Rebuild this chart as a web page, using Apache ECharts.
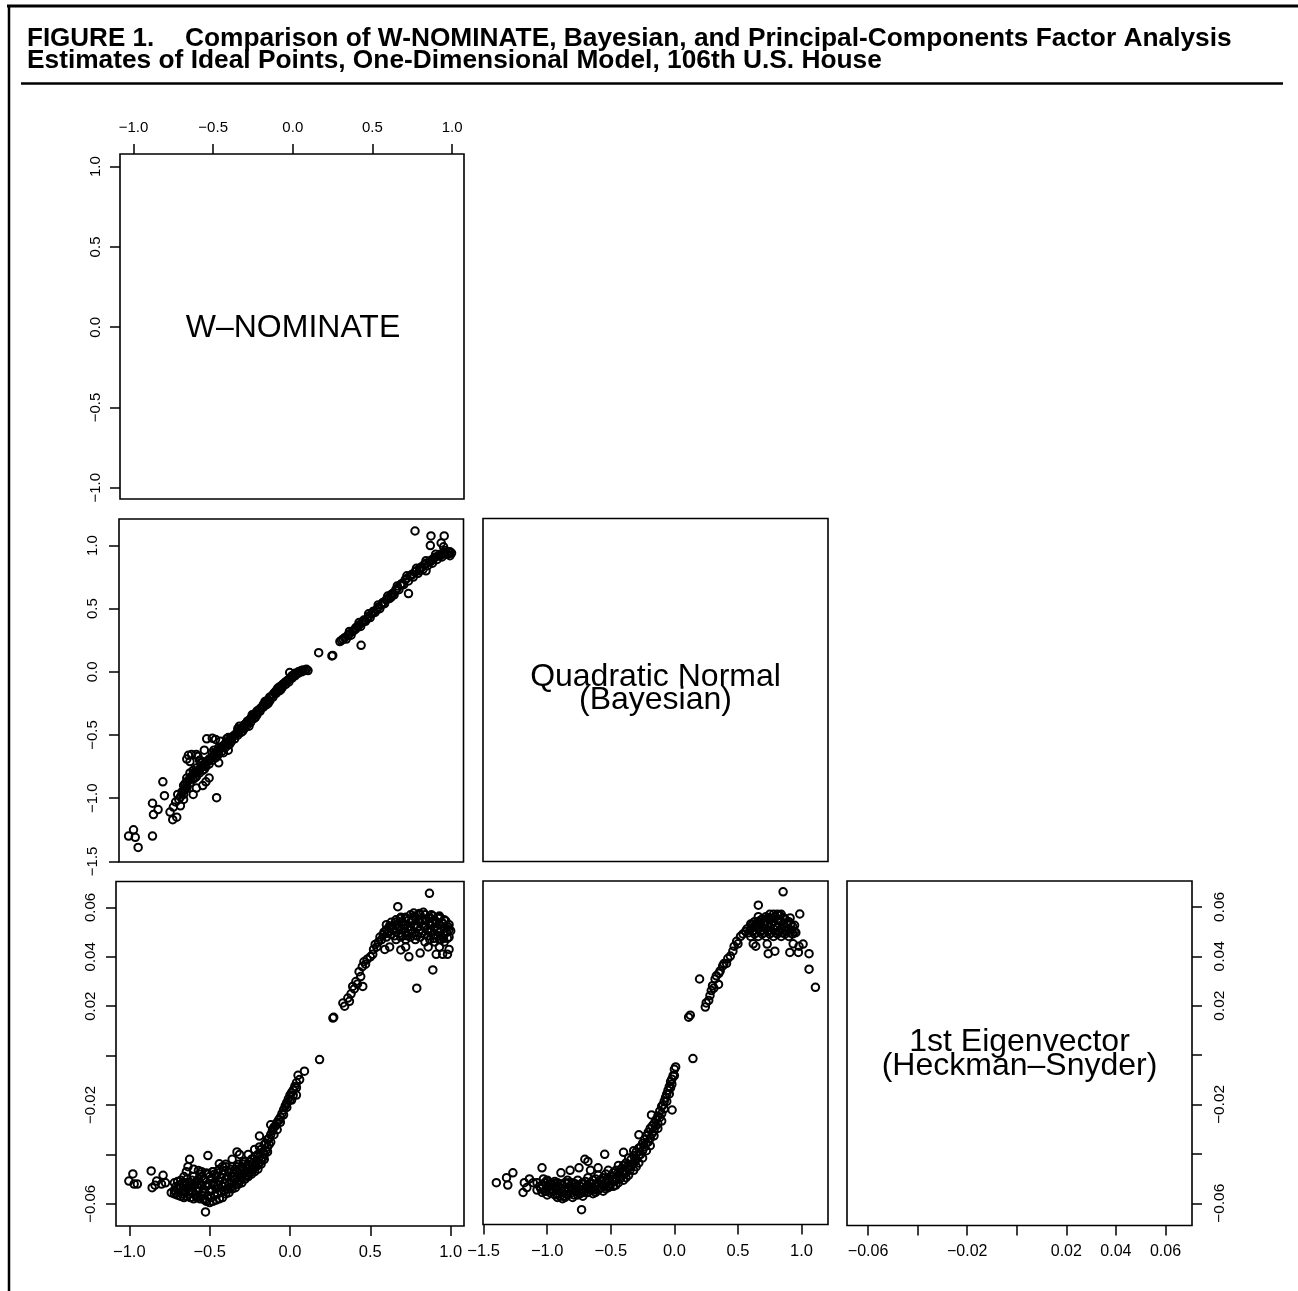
<!DOCTYPE html>
<html><head><meta charset="utf-8">
<script src="https://cdn.jsdelivr.net/npm/echarts@6/dist/echarts.min.js"></script>
<style>html,body{margin:0;padding:0;background:#fff}#c{width:1298px;height:1291px}</style>
</head><body><div id="c"></div>
<script>
// ---------------- DATA ----------------
const panelLabels = ['W\u2013NOMINATE', 'Quadratic Normal\n(Bayesian)', '1st Eigenvector\n(Heckman\u2013Snyder)'];
const titleLine1a = 'FIGURE 1.';
const titleLine1b = 'Comparison of W-NOMINATE, Bayesian, and Principal-Components Factor Analysis';
const titleLine2 = 'Estimates of Ideal Points, One-Dimensional Model, 106th U.S. House';

const nominateTicks = [-1.0, -0.5, 0.0, 0.5, 1.0];
const bayesTicks = [-1.5, -1.0, -0.5, 0.0, 0.5, 1.0];
const eigenTicks = [-0.06, -0.04, -0.02, 0.0, 0.02, 0.04, 0.06];
const eigenLabelTicks = [-0.06, -0.02, 0.02, 0.04, 0.06];

// W-NOMINATE (x) vs Bayesian (y)
const nominateVsBayes = [
[-1.025,-1.30],[-0.994,-1.25],[-0.983,-1.31],[-0.965,-1.39],[-0.875,-1.30],[-0.875,-1.04],[-0.869,-1.13],[-0.84,-1.09],[-0.81,-0.87],[-0.80,-0.98],[-0.765,-1.11],[-0.748,-1.17],[-0.723,-1.15],[-0.744,-1.07],[-0.717,-0.97],[-0.73,-1.03],[-0.70,-1.06],[-0.71,-1.01],[-0.70,-0.99],[-0.69,-0.95],[-0.68,-0.97],[-0.67,-0.93],[-0.66,-0.90],[-0.68,-1.01],
[-0.65,-0.66],[-0.64,-0.71],[-0.63,-0.655],[-0.60,-0.655],[-0.59,-0.67],[-0.535,-0.53],[-0.50,-0.525],[-0.48,-0.535],[-0.66,-0.69],[-0.62,-0.78],[-0.66,-0.84],[-0.58,-0.70],[-0.55,-0.62],[-0.45,-0.55],
[-0.473,-0.996],[-0.62,-0.97],[-0.54,-0.87],[-0.56,-0.90],[-0.60,-0.92],[-0.52,-0.84],[-0.46,-0.72],[-0.40,-0.62],
[-0.68,-0.94],[-0.68,-0.90],[-0.66,-0.92],[-0.66,-0.87],[-0.64,-0.88],[-0.64,-0.84],[-0.64,-0.80],[-0.62,-0.85],[-0.62,-0.81],[-0.60,-0.83],[-0.60,-0.79],[-0.60,-0.76],[-0.58,-0.80],[-0.58,-0.77],[-0.56,-0.78],[-0.56,-0.74],[-0.56,-0.71],[-0.54,-0.75],[-0.54,-0.72],[-0.52,-0.73],[-0.52,-0.69],[-0.50,-0.70],[-0.50,-0.67],[-0.50,-0.64],[-0.48,-0.68],[-0.48,-0.64],[-0.46,-0.65],[-0.46,-0.62],[-0.46,-0.60],[-0.44,-0.63],[-0.44,-0.59],[-0.42,-0.60],[-0.42,-0.57],[-0.40,-0.58],[-0.40,-0.55],[-0.40,-0.52],[-0.38,-0.55],[-0.38,-0.52],[-0.36,-0.53],[-0.36,-0.50],[-0.34,-0.50],[-0.34,-0.47],[-0.34,-0.45],[-0.32,-0.48],[-0.32,-0.45],[-0.30,-0.45],[-0.30,-0.42],[-0.28,-0.42],[-0.28,-0.39],[-0.26,-0.40],[-0.26,-0.37],[-0.24,-0.37],[-0.24,-0.34],[-0.22,-0.34],[-0.22,-0.31],[-0.20,-0.31],[-0.20,-0.29],[-0.18,-0.28],[-0.18,-0.26],[-0.16,-0.26],[-0.16,-0.23],[-0.14,-0.23],[-0.14,-0.20],[-0.12,-0.20],[-0.12,-0.18],[-0.10,-0.17],[-0.10,-0.15],[-0.08,-0.15],[-0.08,-0.12],[-0.06,-0.12],[-0.06,-0.10],[-0.04,-0.10],[-0.04,-0.08],[-0.02,-0.08],[-0.02,-0.06],[0.00,-0.05],[0.00,-0.03],[0.02,-0.03],[0.02,-0.01],[0.04,-0.01],[0.04,0.00],[0.06,0.00],[0.06,0.01],[0.08,0.01],[0.10,0.01],[0.09,0.02],[-0.015,-0.005],
[-0.67,-0.885],[-0.65,-0.86],[-0.63,-0.83],[-0.61,-0.80],[-0.59,-0.785],[-0.57,-0.755],[-0.55,-0.73],[-0.53,-0.71],[-0.51,-0.685],[-0.49,-0.66],[-0.47,-0.635],[-0.45,-0.61],[-0.43,-0.585],[-0.41,-0.56],[-0.39,-0.535],[-0.37,-0.51],[-0.35,-0.49],[-0.33,-0.465],[-0.31,-0.44],[-0.29,-0.41],[-0.27,-0.385],[-0.25,-0.36],[-0.23,-0.33],[-0.21,-0.305],[-0.19,-0.28],[-0.17,-0.25],[-0.15,-0.225],[-0.13,-0.195],[-0.11,-0.165],[-0.09,-0.14],[-0.07,-0.115],[-0.05,-0.09],[-0.03,-0.07],[-0.01,-0.045],[0.01,-0.025],[0.03,-0.01],[0.05,0.005],[0.07,0.015],
[-0.55,-0.77],[-0.47,-0.67],[-0.39,-0.57],[-0.31,-0.47],[-0.23,-0.36],[-0.15,-0.25],[-0.07,-0.14],[-0.61,-0.84],[-0.43,-0.64],[-0.27,-0.43],
[-0.57,-0.72],[-0.49,-0.62],[-0.41,-0.53],[-0.33,-0.43],[-0.25,-0.34],[-0.17,-0.235],[-0.09,-0.13],
[0.30,0.24],[0.31,0.25],[0.32,0.26],[0.33,0.27],[0.35,0.29],[0.36,0.30],[0.38,0.32],[0.39,0.33],[0.41,0.36],[0.42,0.37],[0.44,0.39],[0.45,0.40],[0.47,0.42],[0.48,0.44],[0.50,0.46],[0.51,0.47],[0.53,0.49],[0.54,0.51],[0.56,0.53],[0.57,0.55],[0.59,0.57],[0.60,0.58],[0.62,0.61],[0.63,0.62],[0.65,0.65],[0.66,0.66],[0.68,0.69],[0.69,0.70],[0.71,0.73],[0.72,0.74],[0.74,0.76],[0.75,0.77],[0.77,0.79],[0.78,0.80],[0.80,0.82],[0.81,0.83],[0.83,0.85],[0.84,0.86],[0.86,0.87],[0.87,0.88],[0.89,0.90],[0.90,0.91],[0.92,0.92],[0.93,0.93],[0.95,0.94],[0.96,0.945],[0.98,0.95],[0.99,0.95],[1.0,0.94],
[0.34,0.26],[0.37,0.29],[0.40,0.34],[0.43,0.36],[0.46,0.40],[0.49,0.43],[0.52,0.47],[0.55,0.50],[0.58,0.54],[0.61,0.58],[0.64,0.61],[0.67,0.65],[0.70,0.69],[0.73,0.72],[0.76,0.75],[0.79,0.78],[0.82,0.81],[0.85,0.84],[0.88,0.86],[0.91,0.89],[0.94,0.91],[0.97,0.93],
[0.36,0.32],[0.42,0.39],[0.48,0.46],[0.54,0.53],[0.60,0.60],[0.66,0.68],[0.72,0.76],[0.78,0.82],[0.84,0.88],[0.90,0.93],[0.96,0.96],
[0.45,0.41],[0.51,0.48],[0.57,0.545],[0.63,0.615],[0.69,0.695],[0.75,0.765],[0.81,0.825],[0.87,0.875],[0.93,0.92],[0.99,0.94],[0.40,0.35],[0.62,0.59],[0.80,0.80],[0.88,0.89],
[0.771,1.115],[0.871,1.076],[0.954,1.076],[0.867,1.0],[0.935,1.02],[0.95,0.99],[0.975,0.93],[0.73,0.62],[0.433,0.21],[0.167,0.152],[0.25,0.126],[0.255,0.13],[0.84,0.80],[0.99,0.92]
];

// W-NOMINATE (x) vs 1st eigenvector (y)
const nominateVsEigen = [
[-1.003,-0.0508],[-0.978,-0.0479],[-0.97,-0.052],[-0.95,-0.052],[-0.864,-0.0467],[-0.858,-0.0535],[-0.83,-0.0508],[-0.79,-0.0485],[-0.775,-0.0515],[-0.739,-0.0555],[-0.84,-0.0525],[-0.80,-0.052],
[-0.526,-0.0633],
[-0.625,-0.042],[-0.635,-0.045],[-0.645,-0.047],[-0.60,-0.046],[-0.511,-0.0405],[-0.55,-0.047],[-0.48,-0.047],[-0.44,-0.0438],[-0.40,-0.044],[-0.33,-0.039],[-0.314,-0.040],[-0.29,-0.043],[-0.19,-0.0326],[-0.19,-0.037],[-0.66,-0.049],[-0.57,-0.0465],[-0.36,-0.042],[-0.26,-0.040],[-0.22,-0.038],[-0.42,-0.045],
[-0.72,-0.0515],[-0.72,-0.0545],[-0.72,-0.056],[-0.70,-0.051],[-0.70,-0.054],[-0.70,-0.0565],[-0.68,-0.0505],[-0.68,-0.0535],[-0.68,-0.057],[-0.66,-0.052],[-0.66,-0.055],[-0.66,-0.0575],[-0.64,-0.050],[-0.64,-0.0535],[-0.64,-0.057],[-0.62,-0.0515],[-0.62,-0.0545],[-0.62,-0.0575],[-0.60,-0.049],[-0.60,-0.053],[-0.60,-0.058],[-0.58,-0.051],[-0.58,-0.055],[-0.58,-0.0575],[-0.56,-0.048],[-0.56,-0.052],[-0.56,-0.058],[-0.54,-0.050],[-0.54,-0.054],[-0.54,-0.058],[-0.52,-0.0475],[-0.52,-0.053],[-0.52,-0.059],[-0.50,-0.049],[-0.50,-0.055],[-0.50,-0.0595],[-0.48,-0.047],[-0.48,-0.052],[-0.48,-0.059],[-0.46,-0.049],[-0.46,-0.054],[-0.46,-0.0585],[-0.44,-0.046],[-0.44,-0.051],[-0.44,-0.058],[-0.42,-0.048],[-0.42,-0.053],[-0.42,-0.0575],[-0.40,-0.045],[-0.40,-0.050],[-0.40,-0.056],[-0.38,-0.047],[-0.38,-0.052],[-0.38,-0.0555],[-0.36,-0.045],[-0.36,-0.049],[-0.36,-0.054],[-0.34,-0.046],[-0.34,-0.050],[-0.34,-0.0535],[-0.32,-0.044],[-0.32,-0.048],[-0.32,-0.052],[-0.30,-0.045],[-0.30,-0.049],[-0.30,-0.0515],[-0.28,-0.043],[-0.28,-0.047],[-0.28,-0.050],[-0.26,-0.044],[-0.26,-0.0475],[-0.26,-0.049],[-0.24,-0.042],[-0.24,-0.046],[-0.24,-0.048],[-0.22,-0.041],[-0.22,-0.045],[-0.22,-0.047],[-0.20,-0.040],[-0.20,-0.044],[-0.20,-0.046],[-0.18,-0.038],[-0.18,-0.042],[-0.18,-0.044],[-0.16,-0.036],[-0.16,-0.040],[-0.16,-0.042],[-0.14,-0.034],[-0.14,-0.037],[-0.14,-0.039],[-0.12,-0.032],[-0.12,-0.035],[-0.10,-0.029],[-0.10,-0.032],[-0.08,-0.027],[-0.08,-0.030],[-0.06,-0.025],[-0.06,-0.027],[-0.04,-0.022],[-0.04,-0.024],[-0.02,-0.019],[-0.02,-0.021],[0.00,-0.016],[0.00,-0.018],[0.02,-0.014],[0.02,-0.016],[0.04,-0.011],[0.04,-0.013],[0.06,-0.0097],[0.09,-0.0063],
[-0.71,-0.053],[-0.71,-0.0555],[-0.69,-0.0525],[-0.69,-0.0555],[-0.67,-0.0515],[-0.67,-0.056],[-0.65,-0.0515],[-0.65,-0.0555],[-0.63,-0.0525],[-0.63,-0.056],[-0.61,-0.0505],[-0.61,-0.0555],[-0.59,-0.0515],[-0.59,-0.0565],[-0.57,-0.050],[-0.57,-0.0535],[-0.57,-0.057],[-0.55,-0.049],[-0.55,-0.0525],[-0.55,-0.0565],[-0.53,-0.0505],[-0.53,-0.0555],[-0.53,-0.0585],[-0.51,-0.048],[-0.51,-0.052],[-0.51,-0.057],[-0.49,-0.050],[-0.49,-0.054],[-0.49,-0.0575],[-0.47,-0.048],[-0.47,-0.0525],[-0.47,-0.0565],[-0.45,-0.0475],[-0.45,-0.0525],[-0.45,-0.056],[-0.43,-0.0495],[-0.43,-0.055],[-0.41,-0.0465],[-0.41,-0.0515],[-0.41,-0.055],[-0.39,-0.049],[-0.39,-0.054],[-0.37,-0.046],[-0.37,-0.0505],[-0.37,-0.0535],[-0.35,-0.0475],[-0.35,-0.052],[-0.33,-0.045],[-0.33,-0.049],[-0.33,-0.052],[-0.31,-0.0465],[-0.31,-0.0505],[-0.29,-0.044],[-0.29,-0.048],[-0.27,-0.0455],[-0.27,-0.0485],[-0.25,-0.043],[-0.25,-0.047],[-0.23,-0.0435],[-0.23,-0.046],[-0.21,-0.0425],[-0.21,-0.045],[-0.19,-0.041],[-0.19,-0.0435],[-0.17,-0.039],[-0.17,-0.0415],[-0.15,-0.0355],[-0.15,-0.0385],[-0.13,-0.0335],[-0.13,-0.036],[-0.11,-0.0305],[-0.09,-0.0285],[-0.07,-0.026],[-0.05,-0.0235],[-0.03,-0.0205],[-0.01,-0.0175],[0.01,-0.015],[0.03,-0.0125],
[-0.107,-0.0299],[-0.065,-0.026],[0.01,-0.018],[0.04,-0.016],[-0.024,-0.0198],[0.05,-0.008],[-0.12,-0.028],
[0.267,0.0152],[0.272,0.0155],[0.329,0.0213],[0.34,0.020],[0.36,0.0233],[0.37,0.022],[0.38,0.025],[0.39,0.028],[0.40,0.027],[0.41,0.030],[0.42,0.029],[0.43,0.034],[0.44,0.032],[0.453,0.028],[0.45,0.036],[0.46,0.038],[0.47,0.037],[0.48,0.039],[0.50,0.040],[0.515,0.041],[0.52,0.043],[0.53,0.045],[0.54,0.044],[0.55,0.046],[0.56,0.048],[0.57,0.047],[0.58,0.049],[0.59,0.043],
[0.60,0.048],[0.60,0.051],[0.60,0.053],[0.63,0.049],[0.63,0.052],[0.63,0.054],[0.66,0.047],[0.66,0.050],[0.66,0.053],[0.66,0.055],[0.69,0.048],[0.69,0.051],[0.69,0.054],[0.69,0.056],[0.72,0.047],[0.72,0.050],[0.72,0.053],[0.72,0.056],[0.75,0.048],[0.75,0.051],[0.75,0.054],[0.75,0.057],[0.78,0.047],[0.78,0.050],[0.78,0.053],[0.78,0.056],[0.81,0.048],[0.81,0.051],[0.81,0.054],[0.81,0.057],[0.84,0.046],[0.84,0.049],[0.84,0.052],[0.84,0.055],[0.84,0.057],[0.87,0.047],[0.87,0.050],[0.87,0.053],[0.87,0.056],[0.90,0.046],[0.90,0.049],[0.90,0.052],[0.90,0.055],[0.93,0.047],[0.93,0.050],[0.93,0.053],[0.93,0.056],[0.96,0.046],[0.96,0.049],[0.96,0.052],[0.96,0.055],[0.99,0.048],[0.99,0.051],[0.99,0.053],
[0.615,0.050],[0.645,0.051],[0.675,0.052],[0.705,0.053],[0.735,0.052],[0.765,0.055],[0.795,0.052],[0.825,0.055],[0.855,0.051],[0.885,0.054],[0.915,0.051],[0.945,0.054],[0.975,0.050],
[0.585,0.050],[0.605,0.0495],[0.62,0.0525],[0.65,0.0485],[0.655,0.054],[0.68,0.0495],[0.685,0.0555],[0.70,0.0485],[0.71,0.0515],[0.715,0.0555],[0.73,0.0485],[0.74,0.055],[0.76,0.0495],[0.77,0.0525],[0.775,0.0565],[0.79,0.0485],[0.80,0.055],[0.805,0.0575],[0.82,0.0495],[0.83,0.0525],[0.845,0.0545],[0.86,0.0485],[0.865,0.0555],[0.88,0.0505],[0.89,0.0565],[0.895,0.0475],[0.91,0.0535],[0.92,0.0485],[0.925,0.0555],[0.94,0.0505],[0.95,0.0535],[0.955,0.0475],[0.97,0.0545],[0.98,0.0475],[0.985,0.052],[1.0,0.0505],
[0.77,0.0577],[0.83,0.058],[0.88,0.057],[0.93,0.0565],
[0.671,0.0603],[0.868,0.0657],[0.789,0.0273],[0.889,0.0347],[0.69,0.0428],[0.72,0.044],[0.74,0.040],[0.81,0.0415],[0.86,0.044],[0.91,0.041],[0.93,0.044],[0.95,0.041],[0.99,0.043],[0.94,0.047],[0.98,0.041],[0.62,0.044],[0.184,-0.0016]
];

// Bayesian (x) vs 1st eigenvector (y)
const bayesVsEigen = [
[-1.40,-0.052],[-1.32,-0.050],[-1.31,-0.053],[-1.27,-0.048],[-1.19,-0.056],[-1.18,-0.052],[-1.14,-0.0505],[-1.11,-0.052],[-1.16,-0.054],[-1.041,-0.046],[-0.996,-0.0515],[-0.892,-0.048],[-0.73,-0.063],
[-0.704,-0.0425],[-0.68,-0.0434],[-0.548,-0.0405],[-0.40,-0.0397],[-0.32,-0.039],[-0.279,-0.0326],[-0.18,-0.0245],[-0.018,-0.0225],[-0.66,-0.047],[-0.60,-0.046],[-0.75,-0.046],[-0.82,-0.047],
[-1.08,-0.052],[-1.08,-0.055],[-1.04,-0.053],[-1.04,-0.056],[-1.00,-0.051],[-1.00,-0.054],[-1.00,-0.057],[-0.96,-0.053],[-0.96,-0.0555],[-0.92,-0.052],[-0.92,-0.055],[-0.92,-0.058],[-0.88,-0.053],[-0.88,-0.056],[-0.88,-0.0585],[-0.84,-0.051],[-0.84,-0.054],[-0.84,-0.057],[-0.80,-0.052],[-0.80,-0.055],[-0.80,-0.058],[-0.76,-0.051],[-0.76,-0.054],[-0.76,-0.057],[-0.72,-0.052],[-0.72,-0.055],[-0.72,-0.0575],[-0.68,-0.050],[-0.68,-0.053],[-0.68,-0.056],[-0.64,-0.051],[-0.64,-0.054],[-0.64,-0.0565],[-0.60,-0.049],[-0.60,-0.052],[-0.60,-0.055],[-0.56,-0.050],[-0.56,-0.053],[-0.56,-0.0555],[-0.52,-0.047],[-0.52,-0.051],[-0.52,-0.054],[-0.48,-0.048],[-0.48,-0.051],[-0.48,-0.0535],[-0.44,-0.045],[-0.44,-0.049],[-0.44,-0.052],[-0.40,-0.045],[-0.40,-0.048],[-0.40,-0.051],[-0.36,-0.042],[-0.36,-0.046],[-0.36,-0.049],[-0.32,-0.041],[-0.32,-0.044],[-0.32,-0.047],[-0.28,-0.038],[-0.28,-0.041],[-0.28,-0.044],[-0.25,-0.036],[-0.25,-0.039],[-0.25,-0.042],[-0.22,-0.033],[-0.22,-0.036],[-0.22,-0.039],[-0.19,-0.030],[-0.19,-0.034],[-0.19,-0.037],[-0.16,-0.028],[-0.16,-0.031],[-0.16,-0.033],[-0.13,-0.025],[-0.13,-0.028],[-0.13,-0.030],[-0.10,-0.021],[-0.10,-0.024],[-0.10,-0.027],[-0.08,-0.019],[-0.08,-0.022],[-0.06,-0.016],[-0.06,-0.019],[-0.04,-0.013],[-0.04,-0.016],[-0.02,-0.010],[-0.02,-0.012],[0.0,-0.006],[0.0,-0.0085],[0.01,-0.005],[-0.03,-0.011],
[-1.06,-0.0535],[-1.02,-0.052],[-1.02,-0.0555],[-0.98,-0.0525],[-0.98,-0.056],[-0.94,-0.0515],[-0.94,-0.054],[-0.94,-0.057],[-0.90,-0.0525],[-0.90,-0.0555],[-0.90,-0.0575],[-0.86,-0.052],[-0.86,-0.055],[-0.86,-0.058],[-0.82,-0.0535],[-0.82,-0.0565],[-0.78,-0.0525],[-0.78,-0.0555],[-0.74,-0.0535],[-0.74,-0.0565],[-0.70,-0.0515],[-0.70,-0.0545],[-0.66,-0.052],[-0.66,-0.055],[-0.62,-0.0505],[-0.62,-0.0535],[-0.62,-0.056],[-0.58,-0.051],[-0.58,-0.054],[-0.54,-0.0485],[-0.54,-0.052],[-0.54,-0.0545],[-0.50,-0.0495],[-0.50,-0.0525],[-0.46,-0.047],[-0.46,-0.0505],[-0.46,-0.053],[-0.42,-0.0465],[-0.42,-0.050],[-0.38,-0.044],[-0.38,-0.0475],[-0.38,-0.050],[-0.34,-0.0425],[-0.34,-0.0455],[-0.30,-0.0395],[-0.30,-0.0425],[-0.30,-0.0455],[-0.265,-0.0375],[-0.265,-0.0405],[-0.235,-0.0345],[-0.235,-0.0375],[-0.205,-0.0315],[-0.205,-0.0355],[-0.175,-0.029],[-0.175,-0.032],[-0.145,-0.0265],[-0.145,-0.029],[-0.115,-0.023],[-0.115,-0.0255],[-0.09,-0.0205],[-0.07,-0.0175],[-0.05,-0.0145],[-0.03,-0.0135],[-0.01,-0.0085],
[-1.05,-0.0545],[-1.03,-0.0505],[-1.01,-0.0555],[-0.99,-0.0535],[-0.97,-0.0545],[-0.95,-0.0525],[-0.93,-0.0565],[-0.91,-0.0535],[-0.89,-0.0545],[-0.87,-0.0575],[-0.85,-0.0555],[-0.83,-0.052],[-0.81,-0.0545],[-0.79,-0.057],[-0.77,-0.0535],[-0.75,-0.0555],[-0.73,-0.0525],[-0.71,-0.056],[-0.69,-0.0535],[-0.67,-0.0545],[-0.65,-0.0525],[-0.63,-0.055],[-0.61,-0.0525],[-0.59,-0.0545],[-0.57,-0.0515],[-0.55,-0.0535],[-0.53,-0.0505],[-0.51,-0.0535],[-0.49,-0.0505],[-0.47,-0.0515],[-0.45,-0.0485],[-0.43,-0.0505],[-0.41,-0.0475],[-0.39,-0.0485],[-0.37,-0.0455],[-0.35,-0.047],[-0.33,-0.0445],[-0.31,-0.0435],
[0.112,0.0152],[0.125,0.016],[0.146,-0.0016],[0.198,0.0307],[0.243,0.0193],[0.25,0.021],[0.27,0.022],[0.28,0.024],[0.29,0.026],[0.30,0.028],[0.31,0.027],[0.32,0.0307],[0.347,0.0285],[0.33,0.032],[0.35,0.033],[0.36,0.034],[0.38,0.036],[0.39,0.037],[0.41,0.037],[0.42,0.039],[0.44,0.040],[0.46,0.042],[0.47,0.044],[0.49,0.046],[0.50,0.045],[0.52,0.048],[0.54,0.049],[0.56,0.050],[0.57,0.051],
[0.60,0.048],[0.60,0.051],[0.60,0.053],[0.63,0.049],[0.63,0.052],[0.63,0.054],[0.66,0.048],[0.66,0.051],[0.66,0.054],[0.66,0.056],[0.69,0.049],[0.69,0.052],[0.69,0.055],[0.72,0.048],[0.72,0.051],[0.72,0.054],[0.72,0.056],[0.75,0.049],[0.75,0.052],[0.75,0.055],[0.75,0.057],[0.78,0.048],[0.78,0.051],[0.78,0.054],[0.78,0.057],[0.81,0.049],[0.81,0.052],[0.81,0.055],[0.81,0.057],[0.84,0.048],[0.84,0.051],[0.84,0.054],[0.84,0.057],[0.87,0.049],[0.87,0.052],[0.87,0.055],[0.90,0.048],[0.90,0.051],[0.90,0.054],[0.93,0.049],[0.93,0.052],
[0.615,0.050],[0.645,0.053],[0.675,0.050],[0.705,0.054],[0.735,0.050],[0.765,0.053],[0.795,0.056],[0.825,0.050],[0.855,0.053],[0.885,0.050],[0.915,0.053],[0.945,0.050],
[0.585,0.0495],[0.615,0.053],[0.625,0.0505],[0.645,0.0495],[0.655,0.0525],[0.675,0.0545],[0.685,0.0505],[0.705,0.0495],[0.71,0.0525],[0.735,0.0555],[0.74,0.0505],[0.765,0.0495],[0.77,0.0555],[0.79,0.0525],[0.80,0.0495],[0.82,0.0545],[0.83,0.0565],[0.845,0.0495],[0.86,0.0555],[0.875,0.0505],[0.885,0.0535],[0.905,0.0495],[0.91,0.0555],[0.925,0.0505],[0.945,0.0525],[0.955,0.0495],
[0.855,0.0661],[0.66,0.0607],[0.986,0.0571],[0.738,0.041],[0.79,0.042],[0.908,0.0415],[0.975,0.0415],[1.012,0.0449],[0.98,0.044],[1.059,0.041],[1.059,0.0347],[1.109,0.0273],[0.73,0.0449],[0.62,0.045],[0.64,0.044],[0.934,0.045]
];

// ---------------- CHART ----------------
const FONT = '"Liberation Sans", Arimo, Helvetica, Arial, sans-serif';
const fmt = dec => v => (v < 0 ? '\u2212' : '') + Math.abs(v).toFixed(dec);

const grids = [
  {left:120, top:154, width:344, height:345},     // 0 W-NOMINATE diag
  {left:119, top:519, width:344.5, height:343},   // 1 nominate vs bayes
  {left:483, top:518.5, width:345, height:343},   // 2 Bayesian diag
  {left:116, top:881.5, width:348, height:344.5}, // 3 nominate vs eigen
  {left:483, top:881, width:345, height:343.5},   // 4 bayes vs eigen
  {left:847, top:881, width:345, height:344.5}    // 5 eigen diag
].map(g => Object.assign({show:true, borderColor:'#000', borderWidth:1.6, backgroundColor:'transparent', containLabel:false, outerBoundsMode:'none'}, g));

function axis(gi, min, max, o) {
  o = o || {};
  const show = !!o.ticks;
  return {
    type:'value', gridIndex:gi, min:min, max:max, show:true,
    position:o.position,
    axisLine:{show:false, onZero:false},
    splitLine:{show:false},
    axisTick:{show:show, inside:false, length:10, lineStyle:{color:'#000', width:1.5}, customValues: o.ticks || []},
    axisLabel:{show:show, customValues: o.labels || o.ticks || [], formatter: fmt(o.dec || 1),
      fontFamily:FONT, fontSize:o.fs || 15, color:'#000', margin:o.margin || 19, rotate:o.rotate || 0,
      hideOverlap:false}
  };
}

const xAxes = [
  axis(0, -1.085, 1.075, {position:'top', ticks:nominateTicks, margin:19, fs:15}),
  axis(1, -1.085, 1.075, {position:'bottom'}),
  axis(2, 0, 1, {}),
  axis(3, -1.083, 1.083, {position:'bottom', ticks:nominateTicks, fs:16.5, margin:18}),
  axis(4, -1.505, 1.208, {position:'bottom', ticks:bayesTicks, fs:16.5, margin:18}),
  axis(5, -0.0685, 0.0707, {position:'bottom', ticks:eigenTicks, labels:eigenLabelTicks, dec:2, fs:16, margin:18})
];
const yAxes = [
  axis(0, -1.07, 1.079, {position:'left', ticks:nominateTicks, rotate:90, margin:17}),
  axis(1, -1.505, 1.21, {position:'left', ticks:bayesTicks, rotate:90, margin:19}),
  axis(2, 0, 1, {}),
  axis(3, -0.069, 0.0705, {position:'left', ticks:eigenTicks, labels:eigenLabelTicks, dec:2, rotate:90, margin:18}),
  axis(4, -0.069, 0.0705, {position:'left'}),
  axis(5, -0.069, 0.0705, {position:'right', ticks:eigenTicks, labels:eigenLabelTicks, dec:2, rotate:90, margin:20, fs:15.5})
];

function scatter(gi, data) {
  return {
    type:'scatter', xAxisIndex:gi, yAxisIndex:gi, data:data, silent:true,
    symbol:'circle', symbolSize:7.5,
    itemStyle:{color:'rgba(0,0,0,0)', borderColor:'#000', borderWidth:2, opacity:1},
    emphasis:{disabled:true}, animation:false
  };
}

const T = (text, x, y, font, extra) => ({
  type:'text', silent:true, z:10,
  style:Object.assign({text:text, x:x, y:y, fill:'#000', font:font, align:'left', verticalAlign:'middle'}, extra || {})
});
const L = (x1, y1, x2, y2, w) => ({type:'line', silent:true, shape:{x1:x1, y1:y1, x2:x2, y2:y2}, style:{stroke:'#000', lineWidth:w}});

const chart = echarts.init(document.getElementById('c'), null, {renderer:'canvas'});
chart.setOption({
  backgroundColor:'#fff',
  animation:false,
  grid:grids,
  xAxis:xAxes,
  yAxis:yAxes,
  series:[scatter(1, nominateVsBayes), scatter(3, nominateVsEigen), scatter(4, bayesVsEigen)],
  graphic:[
    L(7, 6, 1298, 6, 3),
    L(9, 5, 9, 1291, 2.5),
    L(21, 83.5, 1283, 83.5, 2.5),
    T(titleLine1a, 27, 38.5, 'bold 26px ' + FONT),
    T(titleLine1b, 185, 38.5, 'bold 26.3px ' + FONT),
    T(titleLine2, 27, 60.5, 'bold 26.3px ' + FONT),
    T(panelLabels[0], 293, 328, '32px ' + FONT, {align:'center'}),
    T(panelLabels[1], 655.5, 689, '32px ' + FONT, {align:'center', lineHeight:23}),
    T(panelLabels[2], 1019.5, 1054, '32px ' + FONT, {align:'center', lineHeight:24})
  ]
});
</script></body></html>
